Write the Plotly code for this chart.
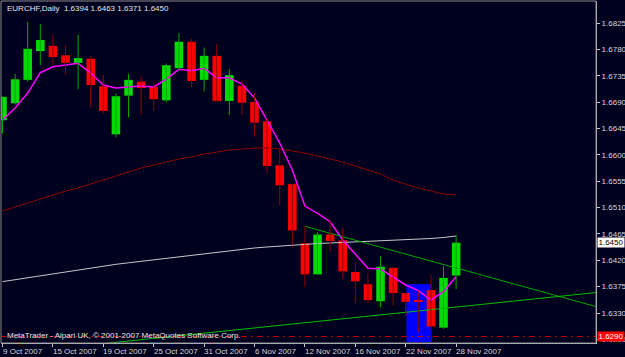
import plotly.graph_objects as go

# ---------------- data ----------------
dates = ["9 Oct 2007", "10 Oct 2007", "11 Oct 2007", "12 Oct 2007", "15 Oct 2007",
         "16 Oct 2007", "17 Oct 2007", "18 Oct 2007", "19 Oct 2007", "22 Oct 2007",
         "23 Oct 2007", "24 Oct 2007", "25 Oct 2007", "26 Oct 2007", "29 Oct 2007",
         "30 Oct 2007", "31 Oct 2007", "1 Nov 2007", "2 Nov 2007", "5 Nov 2007",
         "6 Nov 2007", "7 Nov 2007", "8 Nov 2007", "9 Nov 2007", "12 Nov 2007",
         "13 Nov 2007", "14 Nov 2007", "15 Nov 2007", "16 Nov 2007", "19 Nov 2007",
         "20 Nov 2007", "21 Nov 2007", "22 Nov 2007", "23 Nov 2007", "26 Nov 2007",
         "27 Nov 2007", "28 Nov 2007"]

opens = [1.6659, 1.6688, 1.6728, 1.6777, 1.6786, 1.6770, 1.6757, 1.6764, 1.6717, 1.6635,
         1.6701, 1.6725, 1.6716, 1.6693, 1.6748, 1.6793, 1.6728, 1.6769, 1.6692, 1.6718,
         1.6690, 1.6657, 1.6582, 1.6550, 1.6449, 1.6396, 1.6464, 1.6454, 1.6400, 1.6379,
         1.6350, 1.6407, 1.6364, 1.6352, 1.6369, 1.6305, 1.6394]
highs = [1.6700, 1.6738, 1.6827, 1.6823, 1.6805, 1.6786, 1.6805, 1.6769, 1.6736, 1.6705,
         1.6738, 1.6734, 1.6725, 1.6756, 1.6808, 1.6798, 1.6783, 1.6789, 1.6746, 1.6728,
         1.6705, 1.6663, 1.6611, 1.6551, 1.6478, 1.6468, 1.6488, 1.6475, 1.6417, 1.6398,
         1.6427, 1.6409, 1.6365, 1.6369, 1.6396, 1.6410, 1.6463]
lows = [1.6637, 1.6686, 1.6725, 1.6753, 1.6752, 1.6738, 1.6712, 1.6680, 1.6670, 1.6630,
        1.6664, 1.6668, 1.6675, 1.6690, 1.6745, 1.6716, 1.6708, 1.6690, 1.6668, 1.6668,
        1.6631, 1.6568, 1.6514, 1.6446, 1.6374, 1.6395, 1.6434, 1.6389, 1.6347, 1.6347,
        1.6340, 1.6343, 1.6326, 1.6297, 1.6302, 1.6303, 1.6371]
closes = [1.6699, 1.6729, 1.6781, 1.6796, 1.6767, 1.6757, 1.6765, 1.6719, 1.6675, 1.6700,
          1.6728, 1.6714, 1.6695, 1.6753, 1.6793, 1.6726, 1.6769, 1.6692, 1.6736, 1.6689,
          1.6655, 1.6581, 1.6548, 1.6471, 1.6396, 1.6464, 1.6453, 1.6401, 1.6384, 1.6352,
          1.6409, 1.6364, 1.6349, 1.6350, 1.6307, 1.6390, 1.6450]

ma_fast = [1.66594, 1.66799, 1.67055, 1.67402, 1.67504, 1.67533, 1.67562, 1.67397, 1.67192, 1.67141,
           1.67158, 1.67175, 1.67158, 1.67294, 1.67460, 1.67436, 1.67477, 1.67316, 1.67316, 1.67209,
           1.66970, 1.66582, 1.66202, 1.65741, 1.65126, 1.65002, 1.64858, 1.64546, 1.64307, 1.64063,
           1.64051, 1.63914, 1.63778, 1.63681, 1.63522, 1.63664, 1.63920]
ma_mid = [1.65041, 1.65109, 1.65178, 1.65246, 1.65314, 1.65382, 1.65434, 1.65502, 1.65570, 1.65638,
          1.65707, 1.65775, 1.65826, 1.65877, 1.65929, 1.65963, 1.66014, 1.66048, 1.66082, 1.66099,
          1.66116, 1.66116, 1.66099, 1.66065, 1.66031, 1.65980, 1.65929, 1.65877, 1.65809, 1.65741,
          1.65673, 1.65570, 1.65502, 1.65434, 1.65382, 1.65331, 1.65314]
ma_slow = [1.63836, 1.63870, 1.63904, 1.63938, 1.63973, 1.64007, 1.64041, 1.64075, 1.64106, 1.64131,
           1.64157, 1.64183, 1.64208, 1.64234, 1.64259, 1.64285, 1.64310, 1.64336, 1.64362, 1.64387,
           1.64410, 1.64427, 1.64444, 1.64461, 1.64478, 1.64486, 1.64495, 1.64503, 1.64512, 1.64520,
           1.64529, 1.64538, 1.64546, 1.64560, 1.64572, 1.64589, 1.64614]

# trend lines (bar index, price) anchors
trend_down_x = [24, 47.1]
trend_down_y = [1.6478, 1.6341]
trend_up_x = [8, 47.1]
trend_up_y = [1.62777, 1.63649]

# rectangle object (bar index range, price range)
rect_x = [32.05, 34.05]
rect_y = [1.6280, 1.6379]

hline_level = 1.6290
bid_price = 1.6450

tick_dates = ["9 Oct 2007", "15 Oct 2007", "19 Oct 2007", "25 Oct 2007", "31 Oct 2007",
              "6 Nov 2007", "12 Nov 2007", "16 Nov 2007", "22 Nov 2007", "28 Nov 2007"]
price_ticks = ["1.6825", "1.6780", "1.6735", "1.6690", "1.6645", "1.6600", "1.6555",
               "1.6510", "1.6465", "1.6420", "1.6375", "1.6330", "1.6285"]

title_text = "EURCHF,Daily\u00a0\u00a01.6394 1.6463 1.6371 1.6450"
copyright_text = "MetaTrader - Alpari UK, \u00a9 2001-2007 MetaQuotes Software Corp."

# ---------------- styling ----------------
BG = "#00001f"
FONT = "Liberation Sans"
GREEN = "#00dc00"
RED = "#ff0000"
GREEN_WICK = "#00a800"
RED_WICK = "#900000"

idx = list(range(len(dates)))

fig = go.Figure()

# moving averages
fig.add_trace(go.Scatter(x=idx, y=ma_slow, mode="lines",
                         line=dict(color="#c8c8c8", width=1), hoverinfo="skip"))
fig.add_trace(go.Scatter(x=idx, y=ma_mid, mode="lines",
                         line=dict(color="#8c0000", width=1), hoverinfo="skip"))
fig.add_trace(go.Scatter(x=idx, y=ma_fast, mode="lines",
                         line=dict(color="#ff00ff", width=1.5), hoverinfo="skip"))

# trend lines
fig.add_trace(go.Scatter(x=trend_down_x, y=trend_down_y, mode="lines",
                         line=dict(color="#00a800", width=1), hoverinfo="skip"))
fig.add_trace(go.Scatter(x=trend_up_x, y=trend_up_y, mode="lines",
                         line=dict(color="#00c000", width=1), hoverinfo="skip"))

# wicks
up_x, up_y, dn_x, dn_y = [], [], [], []
for i in idx:
    if closes[i] >= opens[i]:
        up_x += [i, i, None]
        up_y += [lows[i], highs[i], None]
    else:
        dn_x += [i, i, None]
        dn_y += [lows[i], highs[i], None]
fig.add_trace(go.Scatter(x=up_x, y=up_y, mode="lines",
                         line=dict(color=GREEN_WICK, width=1), hoverinfo="skip"))
fig.add_trace(go.Scatter(x=dn_x, y=dn_y, mode="lines",
                         line=dict(color=RED_WICK, width=1), hoverinfo="skip"))

# bodies
body_base = [min(o, c) for o, c in zip(opens, closes)]
body_len = [max(abs(c - o), 0.00012) for o, c in zip(opens, closes)]
body_col = [GREEN if c >= o else RED for o, c in zip(opens, closes)]
fig.add_trace(go.Bar(x=idx, y=body_len, base=body_base, width=0.68,
                     marker=dict(color=body_col, line=dict(width=0)), hoverinfo="skip"))

# shapes
fig.add_shape(type="rect", xref="x", yref="y", x0=rect_x[0], x1=rect_x[1],
              y0=rect_y[0], y1=rect_y[1], fillcolor="#0000ff", line=dict(width=0),
              layer="below")
fig.add_shape(type="line", xref="paper", yref="y", x0=0, x1=1,
              y0=hline_level, y1=hline_level,
              line=dict(color="#c80000", width=1, dash="6px,4px,2px,4px"))
fig.add_shape(type="rect", xref="paper", yref="paper", x0=0, x1=1, y0=0, y1=1,
              line=dict(color="#8a8a8a", width=1))

# annotations
fig.add_annotation(text=title_text, xref="paper", yref="paper", x=0, y=1,
                   xanchor="left", yanchor="top", xshift=4, yshift=-1,
                   showarrow=False, font=dict(family=FONT, size=8, color="#e6e6e6"))
fig.add_annotation(text=copyright_text, xref="paper", yref="paper", x=0, y=0,
                   xanchor="left", yanchor="bottom", xshift=4, yshift=1,
                   showarrow=False, font=dict(family=FONT, size=8, color="#e6e6e6"))
fig.add_annotation(text=f"{bid_price:.4f}", xref="paper", yref="y", x=1, y=bid_price,
                   xanchor="left", yanchor="middle", xshift=1, showarrow=False,
                   bgcolor="#ffffff", borderpad=0, width=26, height=9,
                   font=dict(family=FONT, size=8, color="#000000"))
fig.add_annotation(text=f"{hline_level:.4f}", xref="paper", yref="y", x=1, y=hline_level,
                   xanchor="left", yanchor="middle", xshift=1, showarrow=False,
                   bgcolor="#ff0000", borderpad=0, width=26, height=9,
                   font=dict(family=FONT, size=8, color="#ffffff"))

# date labels, left-aligned at their tick like the terminal draws them
for d in tick_dates:
    fig.add_annotation(text=d, xref="x", yref="paper", x=dates.index(d), y=0,
                       xanchor="left", yanchor="top", xshift=-2, yshift=-2,
                       showarrow=False, font=dict(family=FONT, size=8, color="#d8d8d8"))

fig.update_layout(
    width=625, height=357,
    margin=dict(l=1, r=29, t=1, b=14, pad=0),
    paper_bgcolor=BG, plot_bgcolor=BG,
    showlegend=False, barmode="overlay",
    font=dict(family=FONT, size=8, color="#d0d0d0"),
    xaxis=dict(range=[-0.12, 47.1], showgrid=False, zeroline=False,
               tickmode="array", tickvals=[dates.index(d) for d in tick_dates],
               showticklabels=False, ticks="outside", ticklen=3, tickcolor="#c8c8c8",
               showline=True, linecolor="#c8c8c8",
               linewidth=1, automargin=False, fixedrange=True),
    yaxis=dict(range=[1.62788, 1.68626], side="right", showgrid=False, zeroline=False,
               tickmode="array", tickvals=[float(t) for t in price_ticks],
               ticktext=price_ticks, ticks="outside", ticklen=3, tickcolor="#c8c8c8",
               showline=True, linecolor="#c8c8c8", linewidth=1, automargin=False,
               tickfont=dict(family=FONT, size=8, color="#d8d8d8")),
)

fig.write_html("out.html")
